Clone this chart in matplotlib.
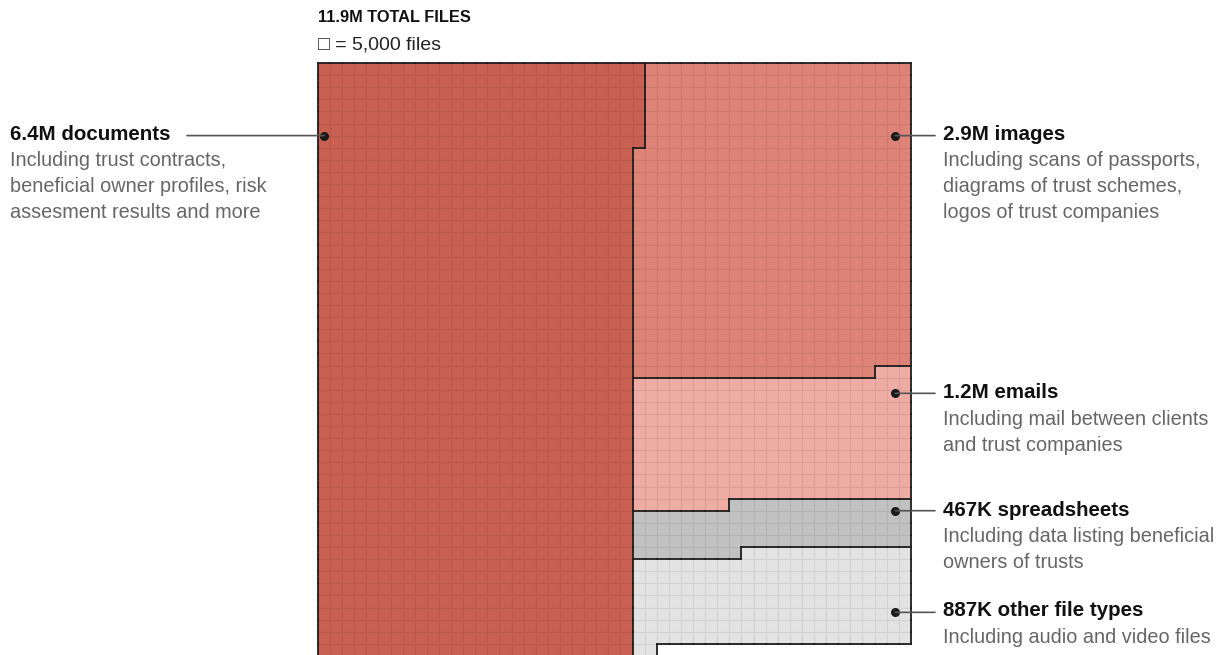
import numpy as np
import matplotlib
matplotlib.use("Agg")
import matplotlib.pyplot as plt
from matplotlib.colors import to_rgb
from matplotlib.collections import LineCollection, PatchCollection
from matplotlib.patches import ConnectionPatch, Rectangle
from matplotlib.transforms import blended_transform_factory

plt.rcParams['font.family'] = ['Liberation Sans', 'DejaVu Sans']

# ---- data ----
categories = ["documents", "images", "emails", "spreadsheets", "other file types"]
files = [6405000, 2940000, 1205000, 467000, 887000]
labels = ["6.4M documents", "2.9M images", "1.2M emails", "467K spreadsheets", "887K other file types"]
descriptions = [
    ["Including trust contracts,", "beneficial owner profiles, risk", "assesment results and more"],
    ["Including scans of passports,", "diagrams of trust schemes,", "logos of trust companies"],
    ["Including mail between clients", "and trust companies"],
    ["Including data listing beneficial", "owners of trusts"],
    ["Including audio and video files"],
]
files_per_square = 5000
colors = ["#c96152", "#dd8377", "#eeaca5", "#c1c1c1", "#e3e3e3"]

N = 49  # grid is 49 x 49 squares
squares = [int(round(f / files_per_square)) for f in files]

# ---- build grid: documents fill column by column, the rest row by row ----
grid = -np.ones((N, N), dtype=int)
k = 0
for c in range(N):
    for r in range(N):
        if k < squares[0]:
            grid[r, c] = 0
            k += 1
queue = []
for i in range(1, len(squares)):
    queue += [i] * squares[i]
q = 0
for r in range(N):
    for c in range(N):
        if grid[r, c] == -1 and q < len(queue):
            grid[r, c] = queue[q]
            q += 1

W, H = 1227, 655
cell = 12.1
fig = plt.figure(figsize=(W / 100, H / 100), dpi=100)
x0, y0 = 318, 63
ax = fig.add_axes([x0 / W, (H - y0 - N * cell) / H, N * cell / W, N * cell / H])
ax.set_xlim(0, N)
ax.set_ylim(N, 0)
ax.axis("off")

for i, col in enumerate(colors):
    rr, cc = np.where(grid == i)
    rects = [Rectangle((c, r), 1, 1) for r, c in zip(rr, cc)]
    edge = tuple(np.array(to_rgb(col)) * 0.93)
    ax.add_collection(PatchCollection(rects, facecolor=col, edgecolor=edge, linewidth=0.8))

# outlines between categories
pad = -np.ones((N + 2, N + 2), dtype=int)
pad[1:-1, 1:-1] = grid
segs = []
for r in range(N + 1):
    for c in range(N + 1):
        a = pad[r + 1, c + 1] if r < N and c < N else -1
        if r < N:
            left = pad[r + 1, c]
            if left != a and (left >= 0 or a >= 0):
                segs.append([(c, r), (c, r + 1)])
        if c < N:
            up = pad[r, c + 1]
            if up != a and (up >= 0 or a >= 0):
                segs.append([(c, r), (c + 1, r)])
lc = LineCollection(segs, colors="#1e1e1e", linewidths=1.3, capstyle="projecting")
lc.set_clip_on(False)
ax.add_collection(lc)

# overlay in pixel coords for text
ov = fig.add_axes([0, 0, 1, 1], zorder=5)
ov.set_xlim(0, W)
ov.set_ylim(H, 0)
ov.axis("off")
ov.patch.set_alpha(0)

ov.text(x0, 18, "11.9M TOTAL FILES", fontsize=11.8, fontweight="bold", color="#111", va="center")
ov.text(x0, 45, "\u25a1 = 5,000 files", fontsize=14, color="#222", va="center")

# dots (grid coords) and label positions (pixels)
dot_cells = [(0.52, 6.0), (47.7, 6.0), (47.7, 27.3), (47.7, 37.0), (47.7, 45.4)]
label_pos = [(10, 134), (943, 134), (943, 393), (943, 510), (943, 611)]
line_end = [187, 935, 935, 935, 935]
mix = blended_transform_factory(ov.transData, ax.transData)

for i in range(len(categories)):
    cx, cy = dot_cells[i]
    ax.plot(cx, cy, "o", color="#1a1a1a", markersize=5.5, zorder=6, clip_on=False)
    lx, ly = label_pos[i]
    con = ConnectionPatch(xyA=(cx, cy), coordsA=ax.transData,
                          xyB=(line_end[i], cy), coordsB=mix,
                          color="#555", linewidth=1.2, zorder=4)
    fig.add_artist(con)
    ov.text(lx, ly, labels[i], fontsize=14.8, fontweight="bold", color="#111", va="center")
    for j, line in enumerate(descriptions[i]):
        ov.text(lx, ly + 26.3 * (j + 1), line, fontsize=14.3, color="#666", va="center")

fig.savefig("out.png", dpi=100)
